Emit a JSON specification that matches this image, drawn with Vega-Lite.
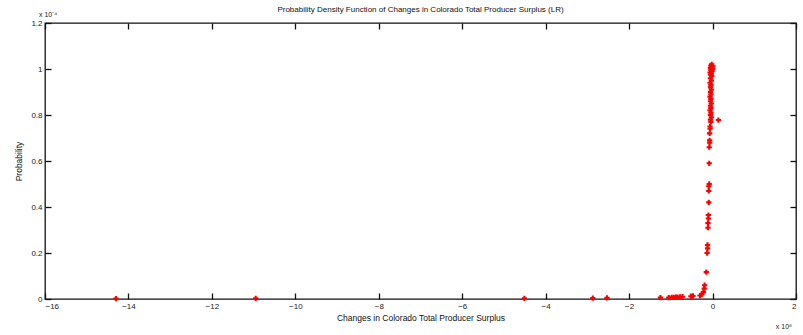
{
  "$schema": "https://vega.github.io/schema/vega-lite/v6.json",
  "width": 751,
  "height": 276,
  "autosize": {"type": "none"},
  "padding": {"left": 45, "top": 23, "right": 7, "bottom": 36},
  "background": "white",
  "config": {
    "font": "Liberation Sans",
    "view": {"stroke": "#111111", "strokeWidth": 1.3},
    "axis": {"grid": false, "domain": false, "tickColor": "#111111", "tickWidth": 1.3, "labelColor": "#222222", "titleColor": "#111111", "labelFont": "Liberation Sans", "titleFont": "Liberation Sans", "labelFontSize": 8, "titleFontSize": 8.5, "titleFontWeight": "normal"}
  },
  "title": {"text": "Probability Density Function of Changes in Colorado Total Producer Surplus (LR)", "fontSize": 8, "fontWeight": "normal", "font": "Liberation Sans", "color": "#111111", "offset": -3, "anchor": "middle"},
  "datasets": {
    "pts": [
      {"change": -14.3, "prob": 0.002}, {"change": -10.95, "prob": 0.003}, {"change": -4.51, "prob": 0.003},
      {"change": -2.87, "prob": 0.004}, {"change": -2.53, "prob": 0.005}, {"change": -1.25, "prob": 0.006},
      {"change": -1.05, "prob": 0.006}, {"change": -0.98, "prob": 0.007}, {"change": -0.93, "prob": 0.007},
      {"change": -0.88, "prob": 0.008}, {"change": -0.84, "prob": 0.008}, {"change": -0.78, "prob": 0.009},
      {"change": -0.72, "prob": 0.01}, {"change": -0.52, "prob": 0.012}, {"change": -0.47, "prob": 0.013},
      {"change": -0.3, "prob": 0.015}, {"change": -0.26, "prob": 0.02}, {"change": -0.22, "prob": 0.03},
      {"change": -0.2, "prob": 0.045}, {"change": -0.19, "prob": 0.06}, {"change": -0.15, "prob": 0.117},
      {"change": -0.13, "prob": 0.2}, {"change": -0.12, "prob": 0.22}, {"change": -0.12, "prob": 0.235},
      {"change": -0.11, "prob": 0.31}, {"change": -0.11, "prob": 0.33}, {"change": -0.1, "prob": 0.35},
      {"change": -0.1, "prob": 0.365}, {"change": -0.09, "prob": 0.42}, {"change": -0.09, "prob": 0.47},
      {"change": -0.09, "prob": 0.49}, {"change": -0.08, "prob": 0.5}, {"change": -0.08, "prob": 0.59},
      {"change": -0.08, "prob": 0.66}, {"change": -0.07, "prob": 0.68}, {"change": -0.07, "prob": 0.69},
      {"change": -0.07, "prob": 0.72}, {"change": -0.06, "prob": 0.74}, {"change": 0.14, "prob": 0.778},
      {"change": -0.06, "prob": 0.75}, {"change": -0.04, "prob": 0.77}, {"change": -0.05, "prob": 0.78},
      {"change": -0.03, "prob": 0.79}, {"change": -0.05, "prob": 0.8}, {"change": -0.04, "prob": 0.81},
      {"change": -0.06, "prob": 0.82}, {"change": -0.04, "prob": 0.83}, {"change": -0.05, "prob": 0.84},
      {"change": -0.03, "prob": 0.85}, {"change": -0.05, "prob": 0.86}, {"change": -0.04, "prob": 0.87},
      {"change": -0.06, "prob": 0.88}, {"change": -0.04, "prob": 0.89}, {"change": -0.05, "prob": 0.9},
      {"change": -0.03, "prob": 0.91}, {"change": -0.05, "prob": 0.92}, {"change": -0.04, "prob": 0.93},
      {"change": -0.06, "prob": 0.94}, {"change": -0.03, "prob": 0.95}, {"change": -0.05, "prob": 0.96},
      {"change": -0.02, "prob": 0.97}, {"change": -0.05, "prob": 0.975}, {"change": -0.03, "prob": 0.98},
      {"change": -0.06, "prob": 0.985}, {"change": -0.01, "prob": 0.99}, {"change": -0.04, "prob": 0.995},
      {"change": 0.0, "prob": 1.0}, {"change": -0.05, "prob": 1.005}, {"change": -0.02, "prob": 1.01},
      {"change": 0.01, "prob": 1.012}, {"change": -0.04, "prob": 1.015}, {"change": -0.02, "prob": 1.02}
    ],
    "ynote": [{"change": -16, "prob": 1.2, "label": "x 10⁻⁴"}],
    "xnote": [{"change": 2, "prob": 0, "label": "x 10⁸"}]
  },
  "layer": [
    {
      "data": {"name": "pts"},
      "mark": {"type": "point", "shape": "cross", "filled": true, "color": "#ff0000", "size": 28, "opacity": 1},
      "encoding": {
        "x": {"field": "change", "type": "quantitative", "scale": {"domain": [-16, 2], "nice": false, "zero": false},
          "axis": {"orient": "bottom", "offset": -6, "values": [-16, -14, -12, -10, -8, -6, -4, -2, 0, 2], "format": "~g", "tickSize": 6, "labelPadding": 3, "title": "Changes in Colorado Total Producer Surplus", "titlePadding": 3}},
        "y": {"field": "prob", "type": "quantitative", "scale": {"domain": [0, 1.2], "nice": false},
          "axis": {"orient": "left", "offset": -6, "values": [0, 0.2, 0.4, 0.6, 0.8, 1, 1.2], "format": "~g", "tickSize": 6, "labelPadding": 3, "title": "Probability", "titlePadding": 7}}
      }
    },
    {
      "data": {"name": "ynote"},
      "mark": {"type": "text", "align": "left", "baseline": "alphabetic", "dx": -6, "dy": -6, "fontSize": 7, "color": "#222222"},
      "encoding": {
        "x": {"field": "change", "type": "quantitative", "axis": {"orient": "top", "offset": -6, "values": [-16, -14, -12, -10, -8, -6, -4, -2, 0, 2], "labels": false, "tickSize": 6, "title": null}},
        "y": {"field": "prob", "type": "quantitative", "axis": {"orient": "right", "offset": -6, "values": [0, 0.2, 0.4, 0.6, 0.8, 1, 1.2], "labels": false, "tickSize": 6, "title": null}},
        "text": {"field": "label"}
      }
    },
    {
      "data": {"name": "xnote"},
      "mark": {"type": "text", "align": "right", "baseline": "alphabetic", "dx": -4, "dy": 30, "fontSize": 7, "color": "#222222"},
      "encoding": {
        "x": {"field": "change", "type": "quantitative", "axis": null},
        "y": {"field": "prob", "type": "quantitative", "axis": null},
        "text": {"field": "label"}
      }
    }
  ],
  "resolve": {"axis": {"x": "independent", "y": "independent"}}
}
